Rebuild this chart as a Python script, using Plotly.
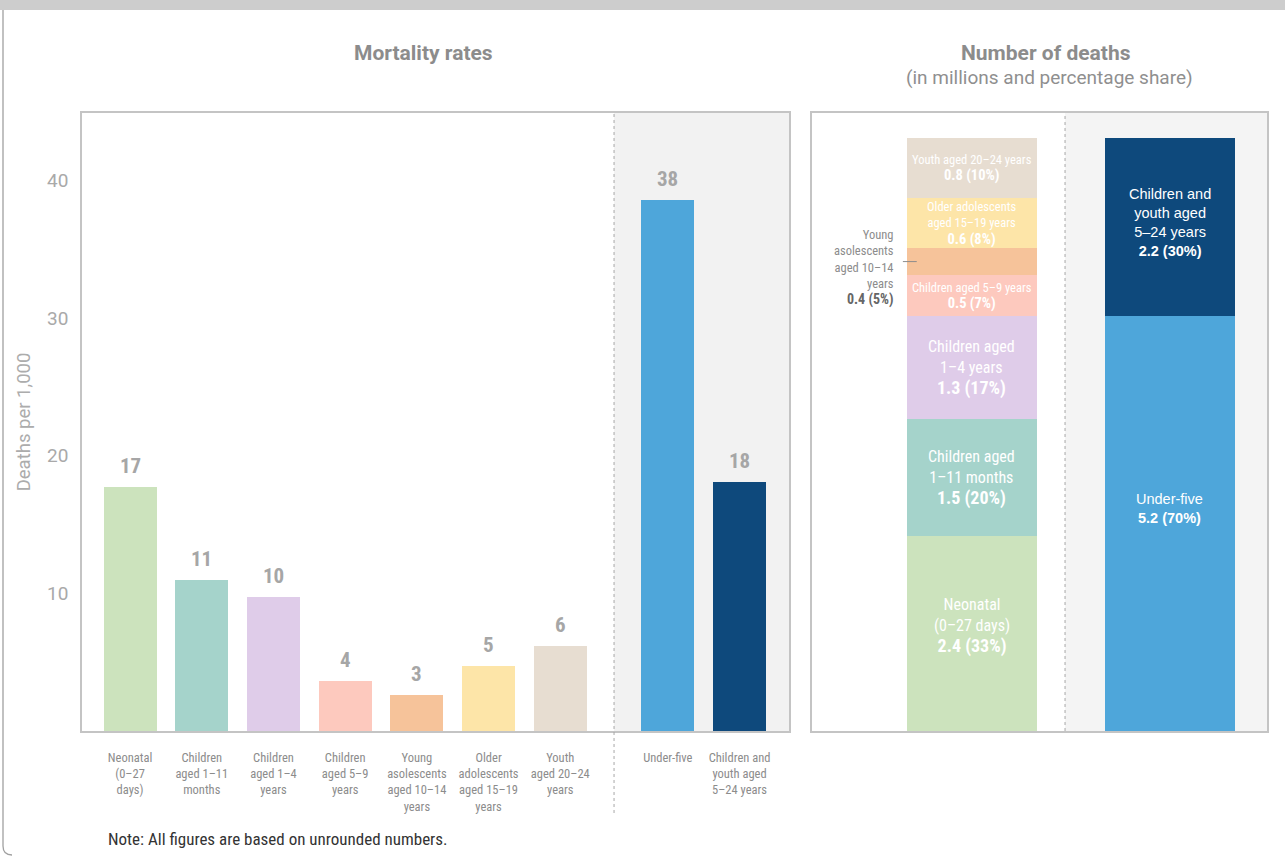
import plotly.graph_objects as go

# ---------------- data ----------------
rate_categories = ["Neonatal<br>(0–27<br>days)", "Children<br>aged 1–11<br>months",
                   "Children<br>aged 1–4<br>years", "Children<br>aged 5–9<br>years",
                   "Young<br>asolescents<br>aged 10–14<br>years",
                   "Older<br>adolescents<br>aged 15–19<br>years", "Youth<br>aged 20–24<br>years"]
rate_values = [17.7, 11.0, 9.7, 3.6, 2.6, 4.7, 6.2]
rate_labels = ["17", "11", "10", "4", "3", "5", "6"]

summary_categories = ["Under-five", "Children and<br>youth aged<br>5–24 years"]
summary_values = [38.6, 18.1]
summary_labels = ["38", "18"]

death_groups = ["Neonatal<br>(0–27 days)", "Children aged<br>1–11 months", "Children aged<br>1–4 years",
                "Children aged 5–9 years", "Young<br>asolescents<br>aged 10–14<br>years",
                "Older adolescents<br>aged 15–19 years", "Youth aged 20–24 years"]
death_values = [2.43, 1.46, 1.29, 0.51, 0.34, 0.62, 0.75]
death_labels = ["2.4 (33%)", "1.5 (20%)", "1.3 (17%)", "0.5 (7%)", "0.4 (5%)", "0.6 (8%)", "0.8 (10%)"]

summary_death_groups = ["Under-five", "Children and<br>youth aged<br>5–24 years"]
summary_death_values = [5.18, 2.22]
summary_death_labels = ["5.2 (70%)", "2.2 (30%)"]

y_ticks = [10, 20, 30, 40]

group_colors = ["#cce3bd", "#a5d3cb", "#dfcce9", "#fdc9be", "#f6c39a", "#fde5a8", "#e7ddd1"]
summary_colors = ["#4ea6da", "#0e497c"]

# ---------------- layout helpers ----------------
W, H = 1285, 856
def px(x):
    return x / W
def py(y):
    return 1 - y / H

NARROW = "Liberation Sans Narrow, Arial Narrow, Roboto Condensed, Liberation Sans, Arial, sans-serif"
REG = "Roboto, Liberation Sans, Arial, sans-serif"
ARIAL = "Liberation Sans, Arial, sans-serif"

fig = go.Figure()

# ----- left panel : mortality rates -----
rate_pos = list(range(len(rate_values)))
sum_pos = [len(rate_values) + 0.5, len(rate_values) + 1.5]
x_left_range = [-0.67, 9.19]
sep_left = (rate_pos[-1] + sum_pos[0]) / 2

all_pos = rate_pos + sum_pos
all_vals = rate_values + summary_values
all_labels = rate_labels + summary_labels

fig.add_trace(go.Bar(
    x=all_pos, y=all_vals,
    marker=dict(color=group_colors + summary_colors, line=dict(width=0)),
    width=0.74, xaxis="x", yaxis="y", showlegend=False, hoverinfo="skip"))

annotations = []
for xp, v, lab in zip(all_pos, all_vals, all_labels):
    annotations.append(dict(x=xp, y=v, xref="x", yref="y", xanchor="center", yanchor="bottom",
                            yshift=7, showarrow=False, text=f"<b>{lab}</b>",
                            font=dict(family=NARROW, size=21, color="#a6a6a6")))

# ----- right panel : number of deaths -----
base = 0
stack_mid = []
for name, v, c in zip(death_groups, death_values, group_colors):
    fig.add_trace(go.Bar(x=[0], y=[v], width=0.657, marker=dict(color=c, line=dict(width=0)),
                         xaxis="x2", yaxis="y2", showlegend=False, hoverinfo="skip", name=name))
    stack_mid.append(base + v / 2)
    base += v
base = 0
sum_mid = []
for name, v, c in zip(summary_death_groups, summary_death_values, summary_colors):
    fig.add_trace(go.Bar(x=[1], y=[v], width=0.657, marker=dict(color=c, line=dict(width=0)),
                         xaxis="x2", yaxis="y2", showlegend=False, hoverinfo="skip", name=name))
    sum_mid.append(base + v / 2)
    base += v

x_right_range = [-0.808, 1.49]
sep_right = 0.47

big = {0, 1, 2}
for i, (name, lab, ym) in enumerate(zip(death_groups, death_labels, stack_mid)):
    if i == 4:
        annotations.append(dict(
            x=-0.384, y=ym, xref="x2", yref="y2", xanchor="right", yanchor="middle", yshift=-6,
            text=f"{name}<br><b><span style='font-size:14px;color:#666666'>{lab}</span></b>",
            showarrow=False, align="right", font=dict(family=NARROW, size=12.5, color="#8c8c8c")))
    elif i in big:
        annotations.append(dict(
            x=0, y=ym, xref="x2", yref="y2", xanchor="center", yanchor="middle",
            yshift=8 if i == 0 else 0,
            text=f"{name}<br><b><span style='font-size:18px'>{lab}</span></b>",
            showarrow=False, align="center", font=dict(family=NARROW, size=16, color="white")))
    else:
        annotations.append(dict(
            x=0, y=ym, xref="x2", yref="y2", xanchor="center", yanchor="middle",
            text=f"{name}<br><b><span style='font-size:14.5px'>{lab}</span></b>",
            showarrow=False, align="center", font=dict(family=NARROW, size=12.5, color="white")))
for i, (name, lab, ym) in enumerate(zip(summary_death_groups, summary_death_labels, sum_mid)):
    annotations.append(dict(
        x=1, y=ym, xref="x2", yref="y2", xanchor="center", yanchor="middle",
        yshift=15 if i == 0 else 5,
        text=f"{name}<br><b>{lab}</b>", showarrow=False, align="center",
        font=dict(family=ARIAL, size=14.5, color="white")))

# titles and note
annotations += [
    dict(x=px(423), y=py(53), xref="paper", yref="paper", showarrow=False,
         xanchor="center", yanchor="middle",
         text="<b>Mortality rates</b>", font=dict(family=REG, size=21, color="#8c8c8c")),
    dict(x=px(1046), y=py(53), xref="paper", yref="paper", showarrow=False,
         xanchor="center", yanchor="middle",
         text="<b>Number of deaths</b>", font=dict(family=REG, size=21, color="#8c8c8c")),
    dict(x=px(1049), y=py(78), xref="paper", yref="paper", showarrow=False,
         xanchor="center", yanchor="middle",
         text="(in millions and percentage share)", font=dict(family=REG, size=19, color="#8f8f8f")),
    dict(x=px(106), y=py(839), xref="paper", yref="paper", showarrow=False,
         xanchor="left", yanchor="middle",
         text="Note: All figures are based on unrounded numbers.",
         font=dict(family=NARROW, size=17, color="#333333")),
]

shapes = [
    dict(type="rect", xref="paper", yref="paper", x0=0, x1=1, y0=py(10), y1=1,
         fillcolor="#cdcdcd", line=dict(width=0), layer="below"),
    dict(type="path", xref="paper", yref="paper",
         path=f"M {px(3)},{py(10)} L {px(3)},{py(846)} Q {px(3)},{py(855)} {px(12)},{py(855)}",
         line=dict(color="#a0a0a0", width=1.3)),
    dict(type="rect", xref="x", yref="paper", x0=sep_left, x1=x_left_range[1],
         y0=py(731), y1=py(113), fillcolor="#f2f2f2", line=dict(width=0), layer="below"),
    dict(type="line", xref="x", yref="paper", x0=sep_left, x1=sep_left, y0=py(813), y1=py(113),
         line=dict(color="#a8a8a8", width=1, dash="dot")),
    dict(type="rect", xref="x2", yref="paper", x0=sep_right, x1=x_right_range[1],
         y0=py(731), y1=py(113), fillcolor="#f4f4f4", line=dict(width=0), layer="below"),
    dict(type="line", xref="x2", yref="paper", x0=sep_right, x1=sep_right, y0=py(731), y1=py(113),
         line=dict(color="#a8a8a8", width=1, dash="dot")),
    dict(type="line", xref="x2", yref="y2", x0=-0.329 - 0.02, x1=-0.329 + 0.05,
         y0=stack_mid[4], y1=stack_mid[4], line=dict(color="#8c8c8c", width=1)),
]

axis_line = dict(showline=True, linecolor="#c4c4c4", linewidth=1.5, mirror=True,
                 showgrid=False, zeroline=False)

fig.update_layout(
    width=W, height=H, autosize=False,
    margin=dict(l=0, r=0, t=0, b=0),
    paper_bgcolor="white", plot_bgcolor="white",
    barmode="stack", bargap=0,
    xaxis=dict(domain=[px(82), px(789)], range=x_left_range, anchor="y",
               tickmode="array", tickvals=all_pos,
               ticktext=rate_categories + summary_categories, ticks="",
               ticklabelstandoff=14,
               tickfont=dict(family=NARROW, size=12.5, color="#8c8c8c"), **axis_line),
    yaxis=dict(domain=[py(731), py(113)], range=[0, 44.9], anchor="x",
               tickmode="array", tickvals=y_ticks, ticks="", ticklabelstandoff=8,
               tickfont=dict(family=REG, size=19, color="#a9a9a9"),
               title=dict(text="Deaths per 1,000", standoff=12,
                          font=dict(family=REG, size=18.5, color="#acacac")), **axis_line),
    xaxis2=dict(domain=[px(812), px(1267)], range=x_right_range, anchor="y2",
                showticklabels=False, ticks="", **axis_line),
    yaxis2=dict(domain=[py(731), py(113)], range=[0, 7.715], anchor="x2",
                showticklabels=False, ticks="", **axis_line),
    annotations=annotations, shapes=shapes,
)

fig.write_html("out.html", config={"displayModeBar": False},
               post_script="document.body.style.margin='0';document.body.style.overflow='hidden';")
